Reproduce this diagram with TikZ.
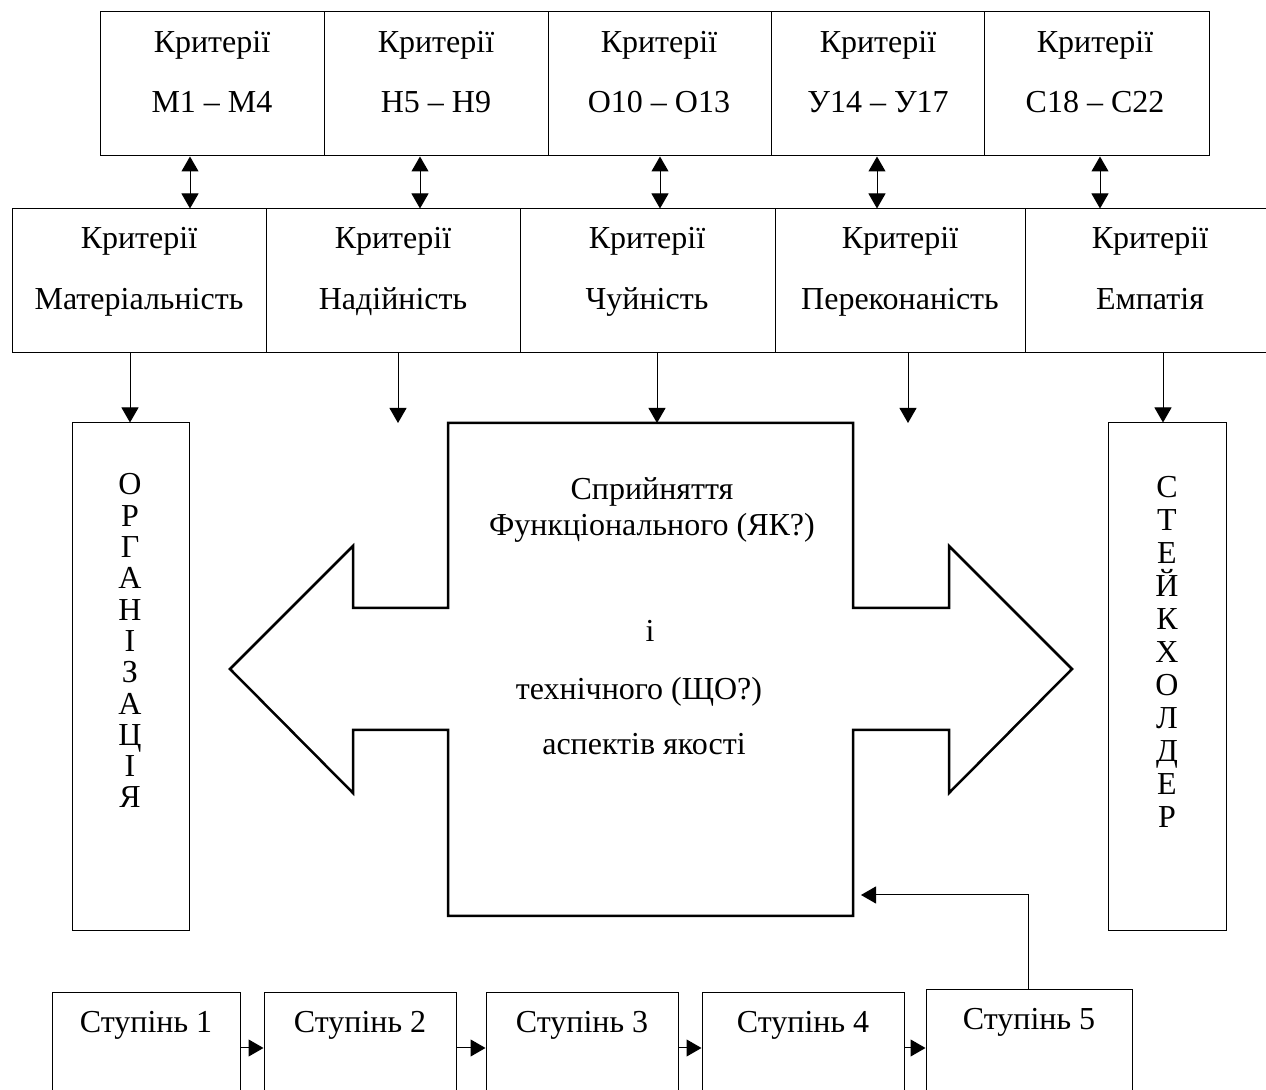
\documentclass[tikz,border=0pt]{standalone}
\usepackage{fontspec}
\setmainfont{Liberation Serif}
\usetikzlibrary{arrows.meta,fit}
\begin{document}
\begin{tikzpicture}[x=0.5pt,y=-0.5pt,
  box/.style={draw, line width=0.5pt, inner sep=0pt},
  lbl/.style={anchor=base, inner sep=0pt, font=\fontsize{16}{19}\selectfont},
  tip/.style={line width=0.5pt, -{Triangle[length=7.5pt,width=8.5pt]}},
  dtip/.style={line width=0.5pt, {Triangle[length=7.5pt,width=8.5pt]}-{Triangle[length=7.5pt,width=8.5pt]}},
  bigarrow/.style={draw, line width=1.25pt, line join=miter}
]
\useasboundingbox (0,0) rectangle (1266,1090);
\clip (0,0) rectangle (1266,1090);

% top row
\node[box, fit={(100,12) (324,156)}] (t1) {};
\node[box, fit={(324,12) (548,156)}] (t2) {};
\node[box, fit={(548,12) (771,156)}] (t3) {};
\node[box, fit={(771,12) (984,156)}] (t4) {};
\node[box, fit={(984,12) (1209,156)}] (t5) {};
\node[lbl] (t1a) at (212,53) {Критерії};
\node[lbl] (t1b) at (212,113) {М1 – М4};
\node[lbl] (t2a) at (436,53) {Критерії};
\node[lbl] (t2b) at (436,113) {Н5 – Н9};
\node[lbl] (t3a) at (659,53) {Критерії};
\node[lbl] (t3b) at (659,113) {О10 – О13};
\node[lbl] (t4a) at (878,53) {Критерії};
\node[lbl] (t4b) at (878,113) {У14 – У17};
\node[lbl] (t5a) at (1095,53) {Критерії};
\node[lbl] (t5b) at (1095,113) {С18 – С22};

% second row
\node[box, fit={(12,209) (266,353)}] (m1) {};
\node[box, fit={(266,209) (520,353)}] (m2) {};
\node[box, fit={(520,209) (775,353)}] (m3) {};
\node[box, fit={(775,209) (1025,353)}] (m4) {};
\node[box, fit={(1025,209) (1290,353)}] (m5) {};
\node[lbl] (m1a) at (139,249) {Критерії};
\node[lbl] (m1b) at (139,310) {Матеріальність};
\node[lbl] (m2a) at (393,249) {Критерії};
\node[lbl] (m2b) at (393,310) {Надійність};
\node[lbl] (m3a) at (647,249) {Критерії};
\node[lbl] (m3b) at (647,310) {Чуйність};
\node[lbl] (m4a) at (900,249) {Критерії};
\node[lbl] (m4b) at (900,310) {Переконаність};
\node[lbl] (m5a) at (1150,249) {Критерії};
\node[lbl] (m5b) at (1150,310) {Емпатія};

% double arrows
\draw[dtip] (190,0 |- t1.south) -- (190,0 |- m1.north);
\draw[dtip] (420,0 |- t2.south) -- (420,0 |- m2.north);
\draw[dtip] (660,0 |- t3.south) -- (660,0 |- m3.north);
\draw[dtip] (877,0 |- t4.south) -- (877,0 |- m4.north);
\draw[dtip] (1100,0 |- t5.south) -- (1100,0 |- m5.north);

% side boxes
\node[box, fit={(72,423) (189,931)}] (org) {};
\node[box, fit={(1108,423) (1226,931)}] (stk) {};
\foreach \l [count=\i] in {О,Р,Г,А,Н,І,З,А,Ц,І,Я}
  \node[lbl] (org\i) at (130,{495+31.3*(\i-1)}) {\l};
\foreach \l [count=\i] in {С,Т,Е,Й,К,Х,О,Л,Д,Е,Р}
  \node[lbl] (stk\i) at (1167,{498+33*(\i-1)}) {\l};

% big double arrow
\draw[bigarrow] (448,423) -- (853,423) -- (853,608) -- (949,608) -- (949,546)
  -- (1072,669) -- (949,793) -- (949,730) -- (853,730) -- (853,916)
  -- (448,916) -- (448,730) -- (353,730) -- (353,793) -- (230,669)
  -- (353,546) -- (353,608) -- (448,608) -- cycle;
\coordinate (bigtop) at (657,423);
\coordinate (gap2) at (398,423);
\coordinate (gap4) at (908,423);
\coordinate (bigright) at (861,895);
\node[lbl] (c1) at (652,500) {Сприйняття};
\node[lbl] (c2) at (652,536) {Функціонального (ЯК?)};
\node[lbl] (c3) at (650,642) {і};
\node[lbl] (c4) at (639,700) {технічного (ЩО?)};
\node[lbl] (c5) at (644,755) {аспектів якості};

% down arrows
\draw[tip] (130,0 |- m1.south) -- (130,0 |- org.north);
\draw[tip] (m2.south -| gap2) -- (gap2);
\draw[tip] (m3.south -| bigtop) -- (bigtop);
\draw[tip] (m4.south -| gap4) -- (gap4);
\draw[tip] (1163,0 |- m5.south) -- (1163,0 |- stk.north);

% steps
\node[box, fit={(52,993) (240,1110)}] (s1) {};
\node[box, fit={(264,993) (456,1110)}] (s2) {};
\node[box, fit={(486,993) (678,1110)}] (s3) {};
\node[box, fit={(702,993) (904,1110)}] (s4) {};
\node[box, fit={(926,990) (1132,1110)}] (s5) {};
\node[lbl] (s1t) at (146,1033) {Ступінь 1};
\node[lbl] (s2t) at (360,1033) {Ступінь 2};
\node[lbl] (s3t) at (582,1033) {Ступінь 3};
\node[lbl] (s4t) at (803,1033) {Ступінь 4};
\node[lbl] (s5t) at (1029,1030) {Ступінь 5};

\draw[tip] (s1.east |- 0,1048) -- (s2.west |- 0,1048);
\draw[tip] (s2.east |- 0,1048) -- (s3.west |- 0,1048);
\draw[tip] (s3.east |- 0,1048) -- (s4.west |- 0,1048);
\draw[tip] (s4.east |- 0,1048) -- (s5.west |- 0,1048);
\draw[tip] (1028,0 |- s5.north) -- (1028,0 |- bigright) -- (bigright);
\end{tikzpicture}
\end{document}
